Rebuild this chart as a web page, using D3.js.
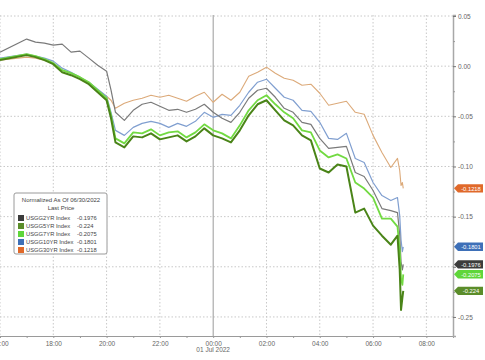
<!DOCTYPE html>
<html>
<head>
<meta charset="utf-8">
<script src="https://cdn.jsdelivr.net/npm/d3@7"></script>
<style>
  body { margin: 0; background: #fff; }
  text { font-family: "Liberation Sans", Arial, sans-serif; }
</style>
</head>
<body>
<script>
// time stamps (30 Jun 16:00 -> 01 Jul 07:08)
const times = ["16:00","17:00","17:20","17:40","18:00","18:20","18:40","19:00","19:20","19:40",
  "20:00","20:10","20:20","20:40","21:00","21:20","21:40","22:00","22:20","22:40",
  "23:00","23:20","23:40","00:00","00:20","00:40","01:00","01:20","01:40","02:00",
  "02:20","02:40","03:00","03:20","03:40","04:00","04:20","04:40","05:00","05:20",
  "05:40","06:00","06:20","06:40","06:55","07:00","07:03","07:06","07:08"];

const usgg2yr = [0.014,0.027,0.024,0.023,0.021,0.022,0.014,0.015,0.008,0.001,
  -0.005,-0.024,-0.046,-0.054,-0.044,-0.038,-0.036,-0.040,-0.044,-0.043,
  -0.046,-0.043,-0.038,-0.046,-0.052,-0.056,-0.046,-0.032,-0.024,-0.022,
  -0.031,-0.042,-0.046,-0.056,-0.058,-0.072,-0.082,-0.081,-0.080,-0.106,
  -0.110,-0.124,-0.142,-0.144,-0.146,-0.168,-0.195,-0.203,-0.1976];
const usgg5yr = [0.006,0.011,0.009,0.006,0.002,-0.006,-0.009,-0.013,-0.018,-0.026,
  -0.034,-0.052,-0.076,-0.081,-0.070,-0.071,-0.067,-0.073,-0.071,-0.069,
  -0.075,-0.070,-0.062,-0.069,-0.072,-0.076,-0.064,-0.049,-0.038,-0.034,
  -0.044,-0.054,-0.059,-0.069,-0.074,-0.102,-0.106,-0.098,-0.100,-0.146,
  -0.142,-0.159,-0.169,-0.178,-0.169,-0.203,-0.243,-0.231,-0.224];
const usgg7yr = [0.007,0.012,0.010,0.007,0.003,-0.004,-0.007,-0.011,-0.016,-0.024,
  -0.032,-0.049,-0.072,-0.077,-0.066,-0.067,-0.063,-0.069,-0.066,-0.065,
  -0.071,-0.066,-0.058,-0.064,-0.067,-0.072,-0.059,-0.044,-0.034,-0.029,
  -0.038,-0.046,-0.052,-0.064,-0.066,-0.084,-0.091,-0.088,-0.092,-0.116,
  -0.122,-0.131,-0.152,-0.152,-0.160,-0.183,-0.211,-0.218,-0.2075];
const usgg10yr = [0.008,0.012,0.010,0.008,0.005,-0.002,-0.006,-0.011,-0.016,-0.023,
  -0.030,-0.046,-0.064,-0.069,-0.061,-0.057,-0.055,-0.057,-0.061,-0.057,
  -0.060,-0.055,-0.046,-0.051,-0.048,-0.049,-0.039,-0.026,-0.016,-0.013,
  -0.022,-0.031,-0.034,-0.044,-0.045,-0.056,-0.072,-0.073,-0.067,-0.092,
  -0.096,-0.116,-0.129,-0.134,-0.131,-0.149,-0.173,-0.185,-0.1801];
const usgg30yr = [0.006,0.009,0.008,0.006,0.003,-0.004,-0.007,-0.011,-0.017,-0.024,
  -0.030,-0.034,-0.042,-0.037,-0.034,-0.032,-0.029,-0.031,-0.029,-0.032,
  -0.035,-0.030,-0.026,-0.036,-0.028,-0.034,-0.026,-0.010,-0.006,-0.001,
  -0.007,-0.012,-0.014,-0.019,-0.018,-0.027,-0.039,-0.037,-0.035,-0.046,
  -0.048,-0.069,-0.086,-0.101,-0.092,-0.104,-0.119,-0.116,-0.1218];

const names = ["USGG2YR Index","USGG5YR Index","USGG7YR Index","USGG10YR Index","USGG30YR Index"];
const lastPrices = ["-0.1976","-0.224","-0.2075","-0.1801","-0.1218"];
const yTicks = [0.05, 0.00, -0.05, -0.10, -0.15, -0.20, -0.25];

// colours: line / legend swatch + tag
const lineColors = ["#7a7a7a","#4a8418","#72da42","#809fd0","#dcaa7a"];
const tagColors = ["#3c3c3c","#5b8d2a","#5fd63a","#3e70b8","#e0692a"];
const lineWidths = [1.2, 2, 1.8, 1.2, 1.1];

const width = 485, height = 360;
const plot = {left: 0, top: 15, right: 453, bottom: 336};

const toDate = s => {
  const [h, m] = s.split(":").map(Number);
  return h >= 12 ? new Date(2022, 5, 30, h, m) : new Date(2022, 6, 1, h, m);
};
const dates = times.map(toDate);

const svg = d3.select("body").append("svg")
  .attr("width", width).attr("height", height);

const x = d3.scaleTime()
  .domain([new Date(2022, 5, 30, 16, 0), new Date(2022, 6, 1, 9, 0)])
  .range([plot.left, plot.right]);
const y = d3.scaleLinear()
  .domain([-0.269, 0.051])
  .range([plot.bottom, plot.top]);

// -0.20 label sits under the value tags in the original
const fmt = v => Math.abs(v + 0.20) < 1e-9 ? "" : d3.format(".2f")(v).replace("−", "-");

// grid
const grid = svg.append("g");
grid.selectAll("line.h").data(yTicks).join("line")
  .attr("x1", plot.left).attr("x2", plot.right)
  .attr("y1", d => y(d)).attr("y2", d => y(d))
  .attr("stroke", "#c8c8c8").attr("stroke-dasharray", "1.5,2");
const xGrid = d3.timeHour.every(2).range(new Date(2022, 5, 30, 16, 0), new Date(2022, 6, 1, 9, 0));
grid.selectAll("line.v").data(xGrid).join("line")
  .attr("x1", d => x(d)).attr("x2", d => x(d))
  .attr("y1", plot.top).attr("y2", plot.bottom)
  .attr("stroke", d => d.getHours() === 0 ? "#9a9a9a" : "#c8c8c8")
  .attr("stroke-dasharray", d => d.getHours() === 0 ? null : "1.5,2");

// x axis
const xAxis = d3.axisBottom(x)
  .ticks(d3.timeHour.every(2))
  .tickFormat(d3.timeFormat("%H:%M"))
  .tickSize(0).tickPadding(5);
const gx = svg.append("g").attr("transform", `translate(0,${plot.bottom})`).call(xAxis);
gx.select(".domain").attr("stroke", "#9a9a9a");
gx.selectAll("text").attr("font-size", 6.5).attr("fill", "#666");
const gxMinor = svg.append("g").attr("transform", `translate(0,${plot.bottom})`)
  .call(d3.axisBottom(x).ticks(d3.timeHour.every(1)).tickSize(2).tickFormat(""));
gxMinor.select(".domain").remove();
gxMinor.selectAll("line").attr("stroke", "#9a9a9a");
svg.append("text")
  .attr("x", x(new Date(2022, 6, 1, 0, 0))).attr("y", 352)
  .attr("text-anchor", "middle").attr("font-size", 6.5).attr("fill", "#666")
  .text("01 Jul 2022");

// right axis
const yAxis = d3.axisRight(y).tickValues(yTicks).tickFormat(fmt).tickSize(3).tickPadding(2);
const gy = svg.append("g").attr("transform", `translate(${plot.right},0)`).call(yAxis);
gy.select(".domain").attr("stroke", "#a8a8a8").attr("stroke-width", 1.5);
gy.selectAll("line").attr("stroke", "#777");
gy.selectAll("text").attr("font-size", 6.5).attr("fill", "#666");
const gyMinor = svg.append("g").attr("transform", `translate(${plot.right},0)`)
  .call(d3.axisRight(y).tickValues(d3.range(-0.225, 0.05, 0.05)).tickSize(2).tickFormat(""));
gyMinor.select(".domain").remove();
gyMinor.selectAll("line").attr("stroke", "#999");

// series
const series = [usgg2yr, usgg5yr, usgg7yr, usgg10yr, usgg30yr];
const line = d3.line().x((d, i) => x(dates[i])).y(d => y(d));
const drawOrder = [4, 3, 0, 2, 1];
svg.append("g").selectAll("path").data(drawOrder).join("path")
  .attr("d", k => line(series[k]))
  .attr("fill", "none")
  .attr("stroke", k => lineColors[k])
  .attr("stroke-width", k => lineWidths[k])
  .attr("stroke-linejoin", "round");

// last value tags on the right
const tags = svg.append("g").selectAll("g").data(d3.range(5)).join("g")
  .attr("transform", k => `translate(${plot.right + 1},${y(series[k][series[k].length - 1])})`);
tags.append("path")
  .attr("d", "M0,0 L4,-4.2 L29,-4.2 L29,4.2 L4,4.2 Z")
  .attr("fill", k => tagColors[k]);
tags.append("text")
  .attr("x", 17).attr("y", 2.2).attr("text-anchor", "middle")
  .attr("font-size", 5.8).attr("fill", "#fff")
  .text(k => lastPrices[k]);

// legend
const lg = svg.append("g").attr("transform", "translate(14,193)");
lg.append("rect").attr("width", 93).attr("height", 61).attr("rx", 2)
  .attr("fill", "#fff").attr("stroke", "#9a9a9a");
lg.append("text").attr("x", 47).attr("y", 8.5).attr("text-anchor", "middle")
  .attr("font-size", 6).attr("fill", "#444").text("Normalized As Of 06/30/2022");
lg.append("text").attr("x", 47).attr("y", 16.5).attr("text-anchor", "middle")
  .attr("font-size", 6).attr("fill", "#444").text("Last Price");
const rows = lg.selectAll("g.row").data(d3.range(5)).join("g")
  .attr("transform", k => `translate(4,${22 + k * 8})`);
rows.append("rect").attr("width", 6).attr("height", 6)
  .attr("fill", k => tagColors[k]);
rows.append("text").attr("x", 8).attr("y", 5.3)
  .attr("font-size", 5.8).attr("fill", "#444").text(k => names[k]);
rows.append("text").attr("x", 59).attr("y", 5.3)
  .attr("font-size", 5.8).attr("fill", "#444").text(k => lastPrices[k]);
</script>
</body>
</html>
